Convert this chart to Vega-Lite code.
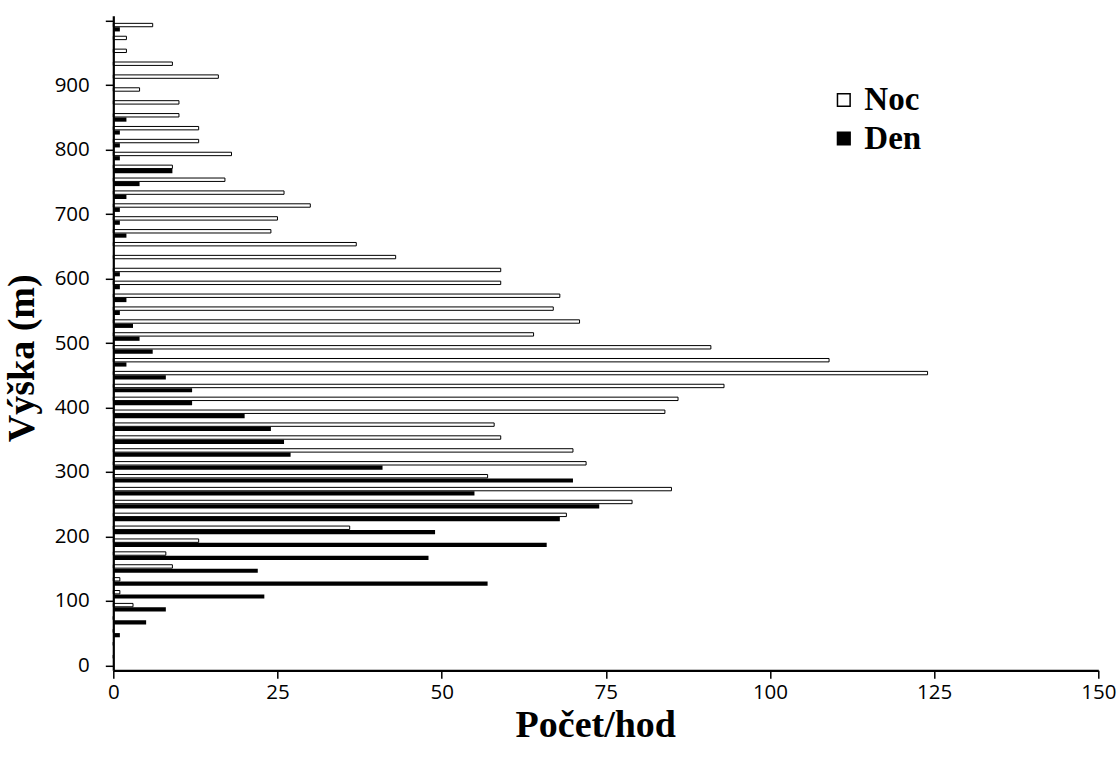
{
  "$schema": "https://vega.github.io/schema/vega-lite/v6.json",
  "width": 985,
  "height": 654.5,
  "autosize": {"type": "none"},
  "padding": {"left": 113.3, "top": 15.8, "right": 21.7, "bottom": 91.7},
  "background": "white",
  "config": {"view": {"stroke": null}, "axis": {"grid": false}},
  "data": {"values": [
    {"h": 990, "serie": "Noc", "n": 6}, {"h": 990, "serie": "Den", "n": 1},
    {"h": 970, "serie": "Noc", "n": 2}, {"h": 970, "serie": "Den", "n": 0},
    {"h": 950, "serie": "Noc", "n": 2}, {"h": 950, "serie": "Den", "n": 0},
    {"h": 930, "serie": "Noc", "n": 9}, {"h": 930, "serie": "Den", "n": 0},
    {"h": 910, "serie": "Noc", "n": 16}, {"h": 910, "serie": "Den", "n": 0},
    {"h": 890, "serie": "Noc", "n": 4}, {"h": 890, "serie": "Den", "n": 0},
    {"h": 870, "serie": "Noc", "n": 10}, {"h": 870, "serie": "Den", "n": 0},
    {"h": 850, "serie": "Noc", "n": 10}, {"h": 850, "serie": "Den", "n": 2},
    {"h": 830, "serie": "Noc", "n": 13}, {"h": 830, "serie": "Den", "n": 1},
    {"h": 810, "serie": "Noc", "n": 13}, {"h": 810, "serie": "Den", "n": 1},
    {"h": 790, "serie": "Noc", "n": 18}, {"h": 790, "serie": "Den", "n": 1},
    {"h": 770, "serie": "Noc", "n": 9}, {"h": 770, "serie": "Den", "n": 9},
    {"h": 750, "serie": "Noc", "n": 17}, {"h": 750, "serie": "Den", "n": 4},
    {"h": 730, "serie": "Noc", "n": 26}, {"h": 730, "serie": "Den", "n": 2},
    {"h": 710, "serie": "Noc", "n": 30}, {"h": 710, "serie": "Den", "n": 1},
    {"h": 690, "serie": "Noc", "n": 25}, {"h": 690, "serie": "Den", "n": 1},
    {"h": 670, "serie": "Noc", "n": 24}, {"h": 670, "serie": "Den", "n": 2},
    {"h": 650, "serie": "Noc", "n": 37}, {"h": 650, "serie": "Den", "n": 0},
    {"h": 630, "serie": "Noc", "n": 43}, {"h": 630, "serie": "Den", "n": 0},
    {"h": 610, "serie": "Noc", "n": 59}, {"h": 610, "serie": "Den", "n": 1},
    {"h": 590, "serie": "Noc", "n": 59}, {"h": 590, "serie": "Den", "n": 1},
    {"h": 570, "serie": "Noc", "n": 68}, {"h": 570, "serie": "Den", "n": 2},
    {"h": 550, "serie": "Noc", "n": 67}, {"h": 550, "serie": "Den", "n": 1},
    {"h": 530, "serie": "Noc", "n": 71}, {"h": 530, "serie": "Den", "n": 3},
    {"h": 510, "serie": "Noc", "n": 64}, {"h": 510, "serie": "Den", "n": 4},
    {"h": 490, "serie": "Noc", "n": 91}, {"h": 490, "serie": "Den", "n": 6},
    {"h": 470, "serie": "Noc", "n": 109}, {"h": 470, "serie": "Den", "n": 2},
    {"h": 450, "serie": "Noc", "n": 124}, {"h": 450, "serie": "Den", "n": 8},
    {"h": 430, "serie": "Noc", "n": 93}, {"h": 430, "serie": "Den", "n": 12},
    {"h": 410, "serie": "Noc", "n": 86}, {"h": 410, "serie": "Den", "n": 12},
    {"h": 390, "serie": "Noc", "n": 84}, {"h": 390, "serie": "Den", "n": 20},
    {"h": 370, "serie": "Noc", "n": 58}, {"h": 370, "serie": "Den", "n": 24},
    {"h": 350, "serie": "Noc", "n": 59}, {"h": 350, "serie": "Den", "n": 26},
    {"h": 330, "serie": "Noc", "n": 70}, {"h": 330, "serie": "Den", "n": 27},
    {"h": 310, "serie": "Noc", "n": 72}, {"h": 310, "serie": "Den", "n": 41},
    {"h": 290, "serie": "Noc", "n": 57}, {"h": 290, "serie": "Den", "n": 70},
    {"h": 270, "serie": "Noc", "n": 85}, {"h": 270, "serie": "Den", "n": 55},
    {"h": 250, "serie": "Noc", "n": 79}, {"h": 250, "serie": "Den", "n": 74},
    {"h": 230, "serie": "Noc", "n": 69}, {"h": 230, "serie": "Den", "n": 68},
    {"h": 210, "serie": "Noc", "n": 36}, {"h": 210, "serie": "Den", "n": 49},
    {"h": 190, "serie": "Noc", "n": 13}, {"h": 190, "serie": "Den", "n": 66},
    {"h": 170, "serie": "Noc", "n": 8}, {"h": 170, "serie": "Den", "n": 48},
    {"h": 150, "serie": "Noc", "n": 9}, {"h": 150, "serie": "Den", "n": 22},
    {"h": 130, "serie": "Noc", "n": 1}, {"h": 130, "serie": "Den", "n": 57},
    {"h": 110, "serie": "Noc", "n": 1}, {"h": 110, "serie": "Den", "n": 23},
    {"h": 90, "serie": "Noc", "n": 3}, {"h": 90, "serie": "Den", "n": 8},
    {"h": 70, "serie": "Noc", "n": 0}, {"h": 70, "serie": "Den", "n": 5},
    {"h": 50, "serie": "Noc", "n": 0}, {"h": 50, "serie": "Den", "n": 1},
    {"h": 30, "serie": "Noc", "n": 0}, {"h": 30, "serie": "Den", "n": 0},
    {"h": 10, "serie": "Noc", "n": 0}, {"h": 10, "serie": "Den", "n": 0}
  ]},
  "encoding": {
    "y": {
      "field": "h", "type": "quantitative",
      "scale": {"domain": [0, 1000], "nice": false},
      "title": "Výška (m)",
      "axis": {
        "values": [0, 100, 200, 300, 400, 500, 600, 700, 800, 900, 1000],
        "labelExpr": "datum.value >= 1000 ? '' : datum.label",
        "labelOverlap": false,
        "labelFlush": false,
        "domainColor": "black", "domainWidth": 2.2,
        "tickColor": "black", "tickWidth": 1.5, "tickSize": 8,
        "labelFont": "Open Sans", "labelFontSize": 20.5, "labelColor": "black", "labelPadding": 16,
        "titleFont": "Liberation Serif", "titleFontWeight": "bold", "titleFontSize": 38, "titleColor": "black",
        "titleX": -72,
        "titleY": 342,
        "zindex": 1
      }
    },
    "x": {
      "field": "n", "type": "quantitative",
      "scale": {"domain": [0, 150], "nice": false},
      "title": "Počet/hod",
      "axis": {
        "values": [0, 25, 50, 75, 100, 125, 150],
        "labelOverlap": false,
        "labelFlush": false,
        "domainColor": "black", "domainWidth": 2.2,
        "tickColor": "black", "tickWidth": 1.5, "tickSize": 8,
        "labelFont": "Open Sans", "labelFontSize": 20.5, "labelColor": "black", "labelPadding": 4,
        "titleFont": "Liberation Serif", "titleFontWeight": "bold", "titleFontSize": 38, "titleColor": "black",
        "titleBaseline": "top", "titleY": 36, "titleX": 482,
        "zindex": 1
      }
    },
    "fill": {
      "field": "serie", "type": "nominal",
      "scale": {"domain": ["Noc", "Den"], "range": ["white", "black"]},
      "legend": {
        "title": null,
        "orient": "none",
        "legendX": 714,
        "legendY": 67.7,
        "padding": 0,
        "symbolType": "square",
        "symbolSize": 160,
        "symbolStrokeColor": "black",
        "symbolStrokeWidth": 1.5,
        "labelFont": "Liberation Serif",
        "labelFontWeight": "bold",
        "labelFontSize": 33,
        "labelColor": "black",
        "labelOffset": 4,
        "rowPadding": 4.5
      }
    }
  },
  "layer": [
    {
      "transform": [{"filter": "datum.serie === 'Noc'"}],
      "mark": {"type": "bar", "orient": "horizontal", "height": 3.4, "yOffset": -2.2, "stroke": "black", "strokeWidth": 1}
    },
    {
      "transform": [{"filter": "datum.serie === 'Den'"}],
      "mark": {"type": "bar", "orient": "horizontal", "height": 4.2, "yOffset": 2.1}
    }
  ]
}
